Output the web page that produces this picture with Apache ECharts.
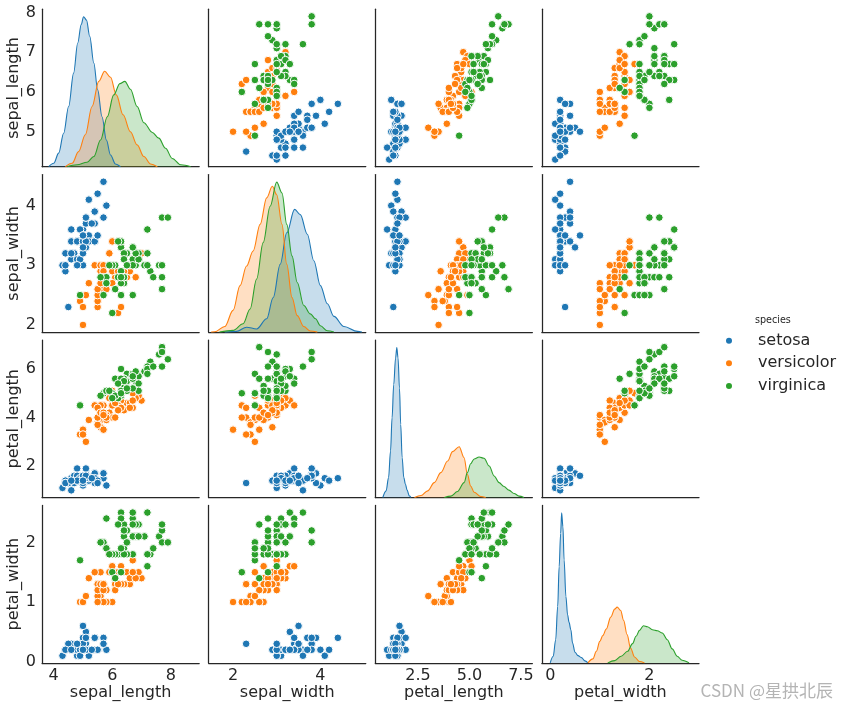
<!DOCTYPE html>
<html><head><meta charset="utf-8">
<script src="https://cdn.jsdelivr.net/npm/echarts@6/dist/echarts.min.js"></script>
<style>html,body{margin:0;padding:0;background:#fff}#c{width:848px;height:709px}</style>
</head><body><div id="c"></div>
<script>
// ---------- data ----------
const variables = ['sepal_length','sepal_width','petal_length','petal_width'];
const speciesNames = ['setosa','versicolor','virginica'];
const speciesColors = ['#1f77b4','#ff7f0e','#2ca02c'];

const setosa_sepal_length = [5.1,4.9,4.7,4.6,5.0,5.4,4.6,5.0,4.4,4.9,5.4,4.8,4.8,4.3,5.8,5.7,5.4,5.1,5.7,5.1,5.4,5.1,4.6,5.1,4.8,5.0,5.0,5.2,5.2,4.7,4.8,5.4,5.2,5.5,4.9,5.0,5.5,4.9,4.4,5.1,5.0,4.5,4.4,5.0,5.1,4.8,5.1,4.6,5.3,5.0];
const setosa_sepal_width  = [3.5,3.0,3.2,3.1,3.6,3.9,3.4,3.4,2.9,3.1,3.7,3.4,3.0,3.0,4.0,4.4,3.9,3.5,3.8,3.8,3.4,3.7,3.6,3.3,3.4,3.0,3.4,3.5,3.4,3.2,3.1,3.4,4.1,4.2,3.1,3.2,3.5,3.6,3.0,3.4,3.5,2.3,3.2,3.5,3.8,3.0,3.8,3.2,3.7,3.3];
const setosa_petal_length = [1.4,1.4,1.3,1.5,1.4,1.7,1.4,1.5,1.4,1.5,1.5,1.6,1.4,1.1,1.2,1.5,1.3,1.4,1.7,1.5,1.7,1.5,1.0,1.7,1.9,1.6,1.6,1.5,1.4,1.6,1.6,1.5,1.5,1.4,1.5,1.2,1.3,1.4,1.3,1.5,1.3,1.3,1.3,1.6,1.9,1.4,1.6,1.4,1.5,1.4];
const setosa_petal_width  = [0.2,0.2,0.2,0.2,0.2,0.4,0.3,0.2,0.2,0.1,0.2,0.2,0.1,0.1,0.2,0.4,0.4,0.3,0.3,0.3,0.2,0.4,0.2,0.5,0.2,0.2,0.4,0.2,0.2,0.2,0.2,0.4,0.1,0.2,0.2,0.2,0.2,0.1,0.2,0.2,0.3,0.3,0.2,0.6,0.4,0.3,0.2,0.2,0.2,0.2];

const versicolor_sepal_length = [7.0,6.4,6.9,5.5,6.5,5.7,6.3,4.9,6.6,5.2,5.0,5.9,6.0,6.1,5.6,6.7,5.6,5.8,6.2,5.6,5.9,6.1,6.3,6.1,6.4,6.6,6.8,6.7,6.0,5.7,5.5,5.5,5.8,6.0,5.4,6.0,6.7,6.3,5.6,5.5,5.5,6.1,5.8,5.0,5.6,5.7,5.7,6.2,5.1,5.7];
const versicolor_sepal_width  = [3.2,3.2,3.1,2.3,2.8,2.8,3.3,2.4,2.9,2.7,2.0,3.0,2.2,2.9,2.9,3.1,3.0,2.7,2.2,2.5,3.2,2.8,2.5,2.8,2.9,3.0,2.8,3.0,2.9,2.6,2.4,2.4,2.7,2.7,3.0,3.4,3.1,2.3,3.0,2.5,2.6,3.0,2.6,2.3,2.7,3.0,2.9,2.9,2.5,2.8];
const versicolor_petal_length = [4.7,4.5,4.9,4.0,4.6,4.5,4.7,3.3,4.6,3.9,3.5,4.2,4.0,4.7,3.6,4.4,4.5,4.1,4.5,3.9,4.8,4.0,4.9,4.7,4.3,4.4,4.8,5.0,4.5,3.5,3.8,3.7,3.9,5.1,4.5,4.5,4.7,4.4,4.1,4.0,4.4,4.6,4.0,3.3,4.2,4.2,4.2,4.3,3.0,4.1];
const versicolor_petal_width  = [1.4,1.5,1.5,1.3,1.5,1.3,1.6,1.0,1.3,1.4,1.0,1.5,1.0,1.4,1.3,1.4,1.5,1.0,1.5,1.1,1.8,1.3,1.5,1.2,1.3,1.4,1.4,1.7,1.5,1.0,1.1,1.0,1.2,1.6,1.5,1.6,1.5,1.3,1.3,1.3,1.2,1.4,1.2,1.0,1.3,1.2,1.3,1.3,1.1,1.3];

const virginica_sepal_length = [6.3,5.8,7.1,6.3,6.5,7.6,4.9,7.3,6.7,7.2,6.5,6.4,6.8,5.7,5.8,6.4,6.5,7.7,7.7,6.0,6.9,5.6,7.7,6.3,6.7,7.2,6.2,6.1,6.4,7.2,7.4,7.9,6.4,6.3,6.1,7.7,6.3,6.4,6.0,6.9,6.7,6.9,5.8,6.8,6.7,6.7,6.3,6.5,6.2,5.9];
const virginica_sepal_width  = [3.3,2.7,3.0,2.9,3.0,3.0,2.5,2.9,2.5,3.6,3.2,2.7,3.0,2.5,2.8,3.2,3.0,3.8,2.6,2.2,3.2,2.8,2.8,2.7,3.3,3.2,2.8,3.0,2.8,3.0,2.8,3.8,2.8,2.8,2.6,3.0,3.4,3.1,3.0,3.1,3.1,3.1,2.7,3.2,3.3,3.0,2.5,3.0,3.4,3.0];
const virginica_petal_length = [6.0,5.1,5.9,5.6,5.8,6.6,4.5,6.3,5.8,6.1,5.1,5.3,5.5,5.0,5.1,5.3,5.5,6.7,6.9,5.0,5.7,4.9,6.7,4.9,5.7,6.0,4.8,4.9,5.6,5.8,6.1,6.4,5.6,5.1,5.6,6.1,5.6,5.5,4.8,5.4,5.6,5.1,5.1,5.9,5.7,5.2,5.0,5.2,5.4,5.1];
const virginica_petal_width  = [2.5,1.9,2.1,1.8,2.2,2.1,1.7,1.8,1.8,2.5,2.0,1.9,2.1,2.0,2.4,2.3,1.8,2.2,2.3,1.5,2.3,2.0,2.0,1.8,2.1,1.8,1.8,1.8,2.1,1.6,1.9,2.0,2.2,1.5,1.4,2.3,2.4,1.8,1.8,2.1,2.4,2.3,1.9,2.3,2.5,2.3,1.9,2.0,2.3,1.8];

// density curves on the diagonal: [value, density]
const kde_sepal_length_setosa = [[3.83,0],[4.00,0.009],[4.17,0.036],[4.34,0.089],[4.51,0.160],[4.68,0.249],[4.82,0.329],[4.94,0.378],[5.02,0.399],[5.12,0.390],[5.23,0.347],[5.37,0.276],[5.50,0.205],[5.65,0.133],[5.80,0.071],[5.94,0.031],[6.11,0.007],[6.28,0]];
const kde_sepal_length_versicolor = [[4.40,0],[4.63,0.009],[4.85,0.040],[5.08,0.085],[5.31,0.160],[5.54,0.227],[5.74,0.254],[5.94,0.238],[6.14,0.191],[6.37,0.138],[6.62,0.093],[6.85,0.058],[7.08,0.027],[7.31,0.007],[7.54,0]];
const kde_sepal_length_virginica = [[4.46,0],[4.80,0.005],[5.14,0.012],[5.37,0.027],[5.60,0.071],[5.83,0.133],[6.05,0.191],[6.26,0.221],[6.43,0.227],[6.62,0.206],[6.85,0.160],[7.08,0.117],[7.37,0.091],[7.59,0.076],[7.82,0.049],[8.05,0.022],[8.34,0.005],[8.68,0]];

const kde_sepal_width_setosa = [[1.81,0],[2.08,0.002],[2.31,0.014],[2.54,0.009],[2.77,0.038],[2.92,0.099],[3.08,0.194],[3.23,0.284],[3.41,0.351],[3.54,0.336],[3.70,0.280],[3.85,0.204],[4.00,0.133],[4.16,0.081],[4.31,0.045],[4.54,0.016],[4.85,0.002],[4.95,0]];
const kde_sepal_width_versicolor = [[1.50,0],[1.58,0.001],[1.81,0.016],[2.00,0.062],[2.16,0.133],[2.31,0.189],[2.46,0.232],[2.62,0.308],[2.77,0.384],[2.90,0.417],[3.00,0.393],[3.12,0.308],[3.23,0.194],[3.35,0.099],[3.47,0.047],[3.62,0.016],[3.77,0.003],[3.93,0]];
const kde_sepal_width_virginica = [[1.69,0],[2.00,0.005],[2.23,0.024],[2.39,0.066],[2.54,0.152],[2.69,0.256],[2.85,0.360],[3.00,0.429],[3.12,0.398],[3.23,0.308],[3.35,0.218],[3.47,0.142],[3.62,0.076],[3.77,0.052],[3.89,0.038],[4.00,0.018],[4.16,0.004],[4.31,0]];

const kde_petal_length_setosa = [[0.79,0],[0.95,0.038],[1.07,0.114],[1.165,0.265],[1.24,0.455],[1.32,0.644],[1.41,0.796],[1.47,0.856],[1.53,0.796],[1.60,0.625],[1.66,0.417],[1.73,0.227],[1.81,0.114],[1.89,0.076],[1.97,0.042],[2.08,0.009],[2.16,0]];
const kde_petal_length_versicolor = [[2.33,0],[2.65,0.011],[2.97,0.038],[3.29,0.085],[3.61,0.142],[3.94,0.208],[4.18,0.262],[4.50,0.290],[4.74,0.227],[4.90,0.133],[5.06,0.066],[5.23,0.030],[5.55,0.006],[5.79,0]];
const kde_petal_length_virginica = [[3.78,0],[4.10,0.008],[4.42,0.034],[4.74,0.085],[4.90,0.142],[5.06,0.193],[5.23,0.220],[5.47,0.231],[5.71,0.224],[5.96,0.180],[6.20,0.123],[6.44,0.085],[6.68,0.063],[6.92,0.042],[7.17,0.023],[7.41,0.008],[7.65,0]];

const kde_petal_width_setosa = [[0.00,0],[0.06,0.093],[0.11,0.324],[0.15,0.787],[0.18,1.343],[0.21,1.806],[0.23,2.093],[0.256,1.899],[0.28,1.436],[0.316,0.926],[0.35,0.672],[0.38,0.565],[0.416,0.463],[0.45,0.278],[0.50,0.148],[0.56,0.102],[0.63,0.074],[0.70,0.028],[0.76,0]];
const kde_petal_width_versicolor = [[0.76,0],[0.86,0.056],[0.93,0.162],[1.00,0.301],[1.06,0.380],[1.13,0.472],[1.22,0.639],[1.30,0.750],[1.35,0.778],[1.42,0.732],[1.48,0.593],[1.55,0.394],[1.62,0.208],[1.70,0.083],[1.80,0.019],[1.90,0]];
const kde_petal_width_virginica = [[1.16,0],[1.30,0.032],[1.43,0.093],[1.56,0.162],[1.66,0.269],[1.73,0.371],[1.80,0.454],[1.88,0.519],[1.96,0.505],[2.06,0.463],[2.16,0.449],[2.26,0.417],[2.36,0.324],[2.46,0.195],[2.56,0.093],[2.66,0.037],[2.80,0]];

// tick labels
const xTickValues = [[4,6,8],[2,4],[2.5,5.0,7.5],[0,2]];
const yTickValues = [[5,6,7,8],[2,3,4],[2,4,6],[0,1,2]];

// ---------- assemble ----------
const measurements = {
  setosa: {sepal_length: setosa_sepal_length, sepal_width: setosa_sepal_width, petal_length: setosa_petal_length, petal_width: setosa_petal_width},
  versicolor: {sepal_length: versicolor_sepal_length, sepal_width: versicolor_sepal_width, petal_length: versicolor_petal_length, petal_width: versicolor_petal_width},
  virginica: {sepal_length: virginica_sepal_length, sepal_width: virginica_sepal_width, petal_length: virginica_petal_length, petal_width: virginica_petal_width}
};
const kdes = {
  sepal_length: [kde_sepal_length_setosa, kde_sepal_length_versicolor, kde_sepal_length_virginica],
  sepal_width: [kde_sepal_width_setosa, kde_sepal_width_versicolor, kde_sepal_width_virginica],
  petal_length: [kde_petal_length_setosa, kde_petal_length_versicolor, kde_petal_length_virginica],
  petal_width: [kde_petal_width_setosa, kde_petal_width_versicolor, kde_petal_width_virginica]
};

// axis extents (layout)
const colRange = [[3.60,8.97],[1.44,5.04],[0.42,8.06],[-0.17,3.0]];
const rowRange = [[4.12,8.08],[1.88,4.52],[0.705,7.195],[-0.02,2.62]];

const FONT = 'DejaVu Sans';
const INK = '#262626';
const grids = [], xAxes = [], yAxes = [], scatterSeries = [], kdeSeries = [];

for (let r = 0; r < 4; r++) {
  for (let c = 0; c < 4; c++) {
    const g = r * 4 + c;
    grids.push({left: 42 + c * 166.6, top: 9.2 + r * 165.4, width: 157.2, height: 157.5,
      containLabel: false, outerBoundsMode: 'none'});
    xAxes.push({
      gridIndex: g, type: 'value', min: colRange[c][0], max: colRange[c][1],
      axisLine: {show: true, onZero: false, lineStyle: {color: INK, width: 1.25}},
      axisTick: {show: false}, splitLine: {show: false},
      axisLabel: {show: r === 3, customValues: xTickValues[c], margin: 5, fontSize: 16,
        fontFamily: FONT, color: INK, formatter: c === 2 ? (v => Number(v).toFixed(1)) : (v => String(v))},
      name: r === 3 ? variables[c] : '', nameLocation: 'middle', nameGap: 21,
      nameTextStyle: {fontSize: 16, fontFamily: FONT, color: INK}
    });
    yAxes.push({
      gridIndex: g, type: 'value', min: rowRange[r][0], max: rowRange[r][1],
      axisLine: {show: true, onZero: false, lineStyle: {color: INK, width: 1.25}},
      axisTick: {show: false}, splitLine: {show: false},
      axisLabel: {show: c === 0, customValues: yTickValues[r], margin: 6, fontSize: 16,
        fontFamily: FONT, color: INK},
      name: c === 0 ? variables[r] : '', nameLocation: 'middle', nameGap: 19, nameRotate: 90,
      nameTextStyle: {fontSize: 16, fontFamily: FONT, color: INK}
    });
    if (r !== c) {
      speciesNames.forEach((sp, k) => {
        const xs = measurements[sp][variables[c]];
        const ys = measurements[sp][variables[r]];
        scatterSeries.push({
          type: 'scatter', name: sp, xAxisIndex: g, yAxisIndex: g,
          data: xs.map((x, i) => [x, ys[i]]),
          symbolSize: 7.6,
          itemStyle: {color: speciesColors[k], borderColor: '#ffffff', borderWidth: 1, opacity: 1},
          emphasis: {disabled: true}
        });
      });
    }
  }
}

// density axes on the diagonal
for (let d = 0; d < 4; d++) {
  const curves = kdes[variables[d]];
  let peak = 0;
  curves.forEach(cv => cv.forEach(p => { if (p[1] > peak) peak = p[1]; }));
  const yi = yAxes.length;
  yAxes.push({gridIndex: d * 5, type: 'value', show: false, position: 'right', min: 0, max: peak * 1.05,
    splitLine: {show: false}});
  curves.forEach((cv, k) => {
    kdeSeries.push({
      type: 'line', name: speciesNames[k], xAxisIndex: d * 5, yAxisIndex: yi,
      data: cv, showSymbol: false, symbol: 'none', smooth: 0.35, smoothMonotone: 'x',
      lineStyle: {color: speciesColors[k], width: 1.1},
      areaStyle: {color: speciesColors[k], opacity: 0.25},
      itemStyle: {color: speciesColors[k]},
      emphasis: {disabled: true}, clip: true
    });
  });
}

const chart = echarts.init(document.getElementById('c'), null, {renderer: 'canvas'});
chart.setOption({
  animation: false,
  backgroundColor: '#ffffff',
  grid: grids, xAxis: xAxes, yAxis: yAxes,
  series: scatterSeries.concat(kdeSeries),
  legend: {
    data: speciesNames, orient: 'vertical', left: 719, top: 326.7, padding: 5,
    itemWidth: 8, itemHeight: 8, itemGap: 4.6, icon: 'circle', selectedMode: false,
    textStyle: {fontSize: 16, fontFamily: FONT, color: INK, lineHeight: 18, padding: [0, 0, 0, 20]}
  },
  graphic: [
    {type: 'text', left: 755, top: 315, style: {text: 'species', fontSize: 9.6, fontFamily: FONT, fill: INK}},
    {type: 'text', right: 15, top: 682, style: {text: 'CSDN @星拱北辰', fontSize: 17,
      fontFamily: 'Noto Sans CJK SC', fill: '#b4b4b4'}}
  ]
});
</script>
</body></html>
